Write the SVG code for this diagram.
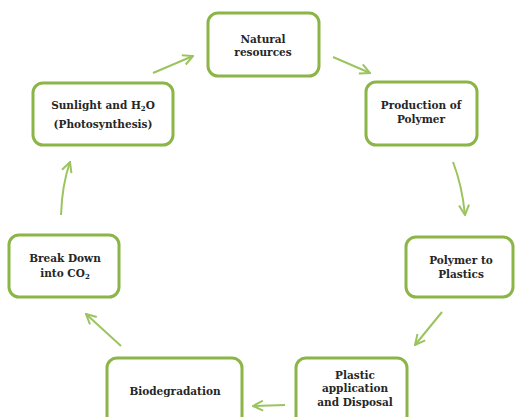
<svg xmlns="http://www.w3.org/2000/svg" width="515" height="417" viewBox="0 0 515 417">
<style>
.box{fill:#ffffff;stroke:#8CB547;stroke-width:3}
.t{font-family:"DejaVu Serif","Liberation Serif",serif;font-weight:bold;font-size:10.5px;fill:#262626;text-anchor:middle}
.sub{font-size:7px}
.arr{fill:none;stroke:#9BC45F;stroke-width:2;marker-end:url(#ah)}
</style>
<defs>
<marker id="ah" viewBox="0 0 12 12" refX="11" refY="6" markerWidth="12" markerHeight="12" markerUnits="userSpaceOnUse" orient="auto">
<path d="M1,1 L11,6 L1,11" fill="none" stroke="#9BC45F" stroke-width="2"/>
</marker>
</defs>
<rect width="515" height="417" fill="#ffffff"/>
<g id="connectors">
<path class="arr" d="M153,73 L193,56"/>
<path class="arr" d="M333,57 L370,73"/>
<path class="arr" d="M453,162 Q462,185 465,215"/>
<path class="arr" d="M442,312 L415,345"/>
<path class="arr" d="M285,405 L253,406"/>
<path class="arr" d="M121,346 L86,314"/>
<path class="arr" d="M61,215 Q62,185 70,162"/>
</g>
<g id="natural">
<rect class="box" x="208" y="13" width="111" height="63" rx="10"/>
<text class="t" x="263" y="43">Natural</text>
<text class="t" x="263" y="56">resources</text>
</g>
<g id="production">
<rect class="box" x="366" y="82" width="111" height="63" rx="10"/>
<text class="t" x="421" y="109">Production of</text>
<text class="t" x="421" y="123">Polymer</text>
</g>
<g id="polymer">
<rect class="box" x="406" y="237" width="107" height="60" rx="10"/>
<text class="t" x="461" y="264">Polymer to</text>
<text class="t" x="461" y="278">Plastics</text>
</g>
<g id="plastic">
<rect class="box" x="296" y="358" width="111" height="70" rx="10"/>
<text class="t" x="355" y="379">Plastic</text>
<text class="t" x="355" y="392">application</text>
<text class="t" x="355" y="406">and Disposal</text>
</g>
<g id="biodegradation">
<rect class="box" x="107" y="358" width="135" height="70" rx="10"/>
<text class="t" x="175" y="395">Biodegradation</text>
</g>
<g id="breakdown">
<rect class="box" x="9" y="235" width="110" height="62" rx="10"/>
<text class="t" x="65" y="262">Break Down</text>
<text class="t" x="65" y="277">into CO<tspan class="sub" dy="2">2</tspan></text>
</g>
<g id="sunlight">
<rect class="box" x="33" y="83" width="140" height="62" rx="10"/>
<text class="t" x="103" y="109">Sunlight and H<tspan class="sub" dy="2">2</tspan><tspan dy="-2">O</tspan></text>
<text class="t" x="103" y="128">(Photosynthesis)</text>
</g>
</svg>
